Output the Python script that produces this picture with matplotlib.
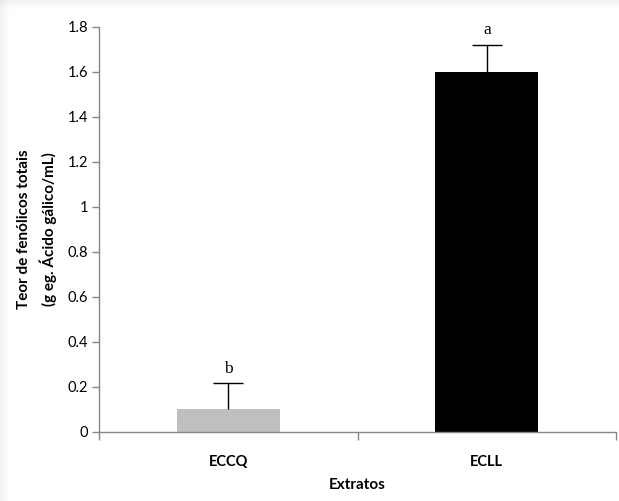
import matplotlib.pyplot as plt
from matplotlib.patches import Rectangle

categories = ["ECCQ", "ECLL"]
values = [0.1, 1.6]
errors = [0.115, 0.12]
letters = ["b", "a"]
colors = ["#bfbfbf", "#000000"]
y_ticks = [0, 0.2, 0.4, 0.6, 0.8, 1, 1.2, 1.4, 1.6, 1.8]
y_tick_labels = ["0", "0.2", "0.4", "0.6", "0.8", "1", "1.2", "1.4", "1.6", "1.8"]

plt.rcParams['font.family'] = ['Lato', 'DejaVu Sans']

W, H = 619, 501
fig = plt.figure(figsize=(W / 100, H / 100), dpi=100)
fig.patch.set_facecolor("white")

# soft frame shadow at left and top, like the pasted screenshot
for i in range(10):
    a = 0.09 * (1 - i / 10)
    fig.patches.append(Rectangle((i / W, 0), 1 / W, 1, transform=fig.transFigure,
                                 color="gray", alpha=a, lw=0))
    fig.patches.append(Rectangle((0, 1 - (i + 1) / H), 1, 1 / H, transform=fig.transFigure,
                                 color="gray", alpha=a, lw=0))

ax = fig.add_axes([99 / W, 69.3 / H, 517 / W, 405.2 / H])

x = [0.5, 1.5]
ax.bar(x, values, width=0.4, color=colors, zorder=2)
eb = ax.errorbar(x, values, yerr=[[0, 0], errors], fmt="none", ecolor="black",
                 elinewidth=1, capsize=10.5, capthick=1, zorder=3)
eb[1][0].set_visible(False)  # no lower cap

for xi, v, e, t in zip(x, values, errors, letters):
    ax.text(xi, v + e + 0.028, t, ha="center", va="bottom", fontsize=12.5,
            family="Liberation Serif")

ax.set_xlim(0, 2)
ax.set_ylim(0, 1.8)
ax.set_yticks(y_ticks)
ax.set_yticklabels(y_tick_labels, fontsize=10.5)
ax.set_xticks([0, 1, 2])
ax.set_xticklabels([])
ax.set_xticks(x, minor=True)
ax.set_xticklabels(categories, minor=True, fontsize=10.5, fontweight="bold")
ax.tick_params(axis="x", which="minor", length=0, pad=17)
ax.tick_params(axis="x", which="major", length=6, width=1, color="#868686", direction="out")
ax.tick_params(axis="y", length=5, width=1, color="#868686", direction="out", pad=3)

for s in ["top", "right"]:
    ax.spines[s].set_visible(False)
for s in ["left", "bottom"]:
    ax.spines[s].set_color("#868686")
    ax.spines[s].set_linewidth(1)

ax.set_xlabel("Extratos", fontsize=11, fontweight="bold")
ax.xaxis.set_label_coords(0.5, -(485 - 431.7) / 405.2)
ax.xaxis.label.set_verticalalignment("center")
ax.set_ylabel("Teor de fenólicos totais\n(g eg. Ácido gálico/mL)", fontsize=11,
              fontweight="bold", linespacing=1.6)
ax.yaxis.set_label_coords((57 - 99) / 517, 0.5)

fig.savefig("out.png", dpi=100)
